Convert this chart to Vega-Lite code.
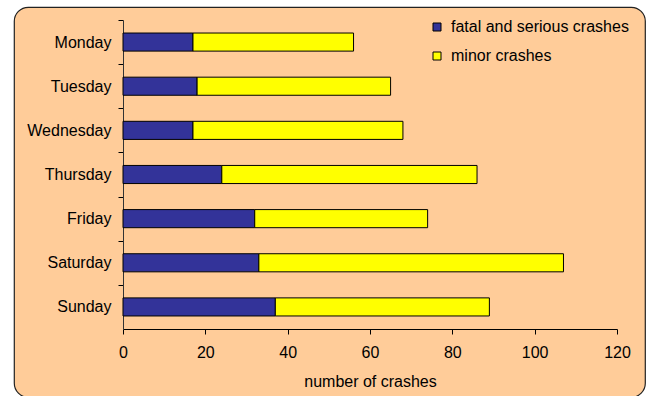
{
  "$schema": "https://vega.github.io/schema/vega-lite/v6.json",
  "width": 631,
  "height": 390,
  "autosize": "none",
  "padding": {"left": 14, "top": 7, "right": 3, "bottom": 0},
  "background": "#FFFFFF",
  "config": {
    "view": {"fill": "#FFCC99", "stroke": "#222222", "strokeWidth": 1.2, "cornerRadius": 14},
    "font": "Liberation Sans",
    "axis": {
      "labelFont": "Liberation Sans",
      "titleFont": "Liberation Sans",
      "labelFontSize": 16,
      "titleFontSize": 16,
      "titleFontWeight": "normal",
      "labelColor": "#000000",
      "titleColor": "#000000",
      "domainColor": "#000000",
      "tickColor": "#000000",
      "grid": false,
      "tickSize": 5
    },
    "legend": {
      "labelFont": "Liberation Sans",
      "labelFontSize": 16,
      "labelColor": "#000000",
      "labelLimit": 400
    }
  },
  "data": {
    "values": [
      {"day": "Monday", "type": "fatal and serious crashes", "rank": 1, "crashes": 17},
      {"day": "Monday", "type": "minor crashes", "rank": 2, "crashes": 39},
      {"day": "Tuesday", "type": "fatal and serious crashes", "rank": 1, "crashes": 18},
      {"day": "Tuesday", "type": "minor crashes", "rank": 2, "crashes": 47},
      {"day": "Wednesday", "type": "fatal and serious crashes", "rank": 1, "crashes": 17},
      {"day": "Wednesday", "type": "minor crashes", "rank": 2, "crashes": 51},
      {"day": "Thursday", "type": "fatal and serious crashes", "rank": 1, "crashes": 24},
      {"day": "Thursday", "type": "minor crashes", "rank": 2, "crashes": 62},
      {"day": "Friday", "type": "fatal and serious crashes", "rank": 1, "crashes": 32},
      {"day": "Friday", "type": "minor crashes", "rank": 2, "crashes": 42},
      {"day": "Saturday", "type": "fatal and serious crashes", "rank": 1, "crashes": 33},
      {"day": "Saturday", "type": "minor crashes", "rank": 2, "crashes": 74},
      {"day": "Sunday", "type": "fatal and serious crashes", "rank": 1, "crashes": 37},
      {"day": "Sunday", "type": "minor crashes", "rank": 2, "crashes": 52}
    ]
  },
  "mark": {"type": "bar", "stroke": "#000000", "strokeWidth": 1},
  "encoding": {
    "y": {
      "field": "day",
      "type": "nominal",
      "sort": ["Monday", "Tuesday", "Wednesday", "Thursday", "Friday", "Saturday", "Sunday"],
      "scale": {"range": [13, 322], "paddingInner": 0.59, "paddingOuter": 0.295},
      "axis": {
        "title": null,
        "offset": -109,
        "tickBand": "center",
        "tickOffset": -22.07,
        "labelOffset": 22.07,
        "labelPadding": 7,
        "domainColor": "#333333"
      }
    },
    "x": {
      "field": "crashes",
      "type": "quantitative",
      "stack": "zero",
      "scale": {"domain": [0, 120], "range": [109, 603], "nice": false},
      "axis": {
        "title": "number of crashes",
        "values": [0, 20, 40, 60, 80, 100, 120],
        "offset": -68,
        "labelFlush": false,
        "labelPadding": 10,
        "titlePadding": 13
      }
    },
    "color": {
      "field": "type",
      "type": "nominal",
      "scale": {
        "domain": ["fatal and serious crashes", "minor crashes"],
        "range": ["#333399", "#FFFF00"]
      },
      "legend": {
        "title": null,
        "orient": "none",
        "legendX": 415,
        "legendY": 12,
        "symbolType": "square",
        "symbolSize": 64,
        "symbolStrokeColor": "#000000",
        "symbolStrokeWidth": 1,
        "rowPadding": 13,
        "labelOffset": 6
      }
    },
    "order": {"field": "rank", "type": "quantitative"}
  }
}
